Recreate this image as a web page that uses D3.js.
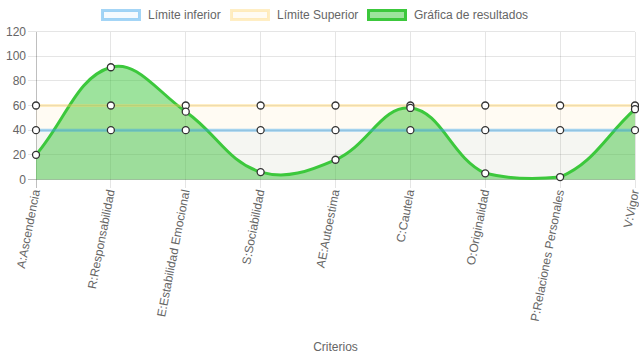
<!DOCTYPE html>
<html><head><meta charset="utf-8">
<script src="https://cdn.jsdelivr.net/npm/d3@7"></script>
<style>body{margin:0;background:#fff}svg{display:block;font-family:"Liberation Sans",Arial,sans-serif}</style>
</head><body><svg id="c" width="639" height="360"></svg>
<script>
const categories = ["A:Ascendencia","R:Responsabilidad","E:Estabilidad Emocional","S:Sociabilidad","AE:Autoestima","C:Cautela","O:Originalidad","P:Relaciones Personales","V:Vigor"];
const lowerLimit = [40,40,40,40,40,40,40,40,40];
const upperLimit = [60,60,60,60,60,60,60,60,60];
const results = [20,91,55,6,16,58,5,2,57];
const yTicks = [0,20,40,60,80,100,120];
const seriesNames = ["Límite inferior","Límite Superior","Gráfica de resultados"];

const svg = d3.select("#c");
const L=36, R=635, T=31.5, B=179.5;
const x = d3.scalePoint().domain(categories).range([L,R]);
const y = d3.scaleLinear().domain([0,120]).range([B,T]);

const g = svg.append("g");
g.selectAll(".hg").data(yTicks).join("line").attr("x1",L-8).attr("x2",R).attr("y1",d=>y(d)).attr("y2",d=>y(d))
 .attr("stroke",d=>d===0?"rgba(0,0,0,0.25)":"rgba(0,0,0,0.1)").attr("shape-rendering","crispEdges");
g.selectAll(".vg").data(categories).join("line").attr("x1",d=>x(d)).attr("x2",d=>x(d)).attr("y1",T).attr("y2",B+8)
 .attr("stroke",(d,i)=>i===0?"rgba(0,0,0,0.25)":"rgba(0,0,0,0.1)").attr("shape-rendering","crispEdges");

g.selectAll(".yl").data(yTicks).join("text").attr("x",L-10).attr("y",d=>y(d)).attr("dy","0.35em")
 .attr("text-anchor","end").attr("font-size",12).attr("fill","#666").text(d=>d);

g.selectAll(".xl").data(categories).join("text")
 .attr("transform",d=>`translate(${x(d)+4},${B+11}) rotate(-79)`)
 .attr("text-anchor","end").attr("font-size",12).attr("fill","#666").text(d=>d);

svg.append("text").attr("x",(L+R)/2).attr("y",351).attr("text-anchor","middle").attr("font-size",12).attr("fill","#666").text("Criterios");

function splinePath(vals, closeToBase){
  const pts = vals.map((v,i)=>[x(categories[i]), y(v)]);
  const t=0.4, cps=[];
  for(let i=0;i<pts.length;i++){
    const p=pts[Math.max(0,i-1)], c=pts[i], n=pts[Math.min(pts.length-1,i+1)];
    const d01=Math.hypot(c[0]-p[0],c[1]-p[1]), d12=Math.hypot(n[0]-c[0],n[1]-c[1]);
    let s01=d01/(d01+d12), s12=d12/(d01+d12);
    if(isNaN(s01)) s01=0; if(isNaN(s12)) s12=0;
    const fa=t*s01, fb=t*s12;
    let pc=[c[0]-fa*(n[0]-p[0]), c[1]-fa*(n[1]-p[1])];
    let nc=[c[0]+fb*(n[0]-p[0]), c[1]+fb*(n[1]-p[1])];
    const cap=q=>[Math.max(L,Math.min(R,q[0])),Math.max(T,Math.min(B,q[1]))];
    cps.push([cap(pc),cap(nc)]);
  }
  const path=d3.path();
  path.moveTo(pts[0][0],pts[0][1]);
  for(let i=1;i<pts.length;i++){
    const a=cps[i-1][1], b=cps[i][0];
    path.bezierCurveTo(a[0],a[1],b[0],b[1],pts[i][0],pts[i][1]);
  }
  if(closeToBase){ path.lineTo(pts[pts.length-1][0],B); path.lineTo(pts[0][0],B); path.closePath(); }
  return path.toString();
}

const blueStroke="rgba(54,162,235,0.45)", blueFill="rgba(54,162,235,0.05)";
const yellowStroke="rgba(255,205,86,0.35)", yellowFill="rgba(255,205,86,0.07)";
const greenStroke="rgb(60,200,60)", greenFill="rgba(60,200,60,0.5)";
const series = [
  {vals:results, stroke:greenStroke, fill:greenFill},
  {vals:upperLimit, stroke:yellowStroke, fill:yellowFill},
  {vals:lowerLimit, stroke:blueStroke, fill:blueFill}
];
series.forEach(s=>{
  svg.append("path").attr("d",splinePath(s.vals,true)).attr("fill",s.fill).attr("stroke","none");
});
series.forEach(s=>{
  svg.append("path").attr("d",splinePath(s.vals,false)).attr("fill","none").attr("stroke",s.stroke).attr("stroke-width",3);
});
series.slice().reverse().forEach(s=>{
  svg.append("g").selectAll("circle").data(s.vals).join("circle")
   .attr("cx",(d,i)=>x(categories[i])).attr("cy",d=>y(d)).attr("r",3.5)
   .attr("fill","#fff").attr("stroke","#333").attr("stroke-width",1.3);
});

const leg = [
  {name:seriesNames[0], stroke:blueStroke, fill:blueFill, x:101},
  {name:seriesNames[1], stroke:yellowStroke, fill:yellowFill, x:230},
  {name:seriesNames[2], stroke:greenStroke, fill:greenFill, x:367}
];
const lg = svg.append("g");
leg.forEach(l=>{
  lg.append("rect").attr("x",l.x+1.5).attr("y",10.5).attr("width",37).attr("height",9).attr("fill",l.fill).attr("stroke",l.stroke).attr("stroke-width",3);
  lg.append("text").attr("x",l.x+47).attr("y",15).attr("dy","0.35em").attr("font-size",12).attr("fill","#666").text(l.name);
});
</script></body></html>
